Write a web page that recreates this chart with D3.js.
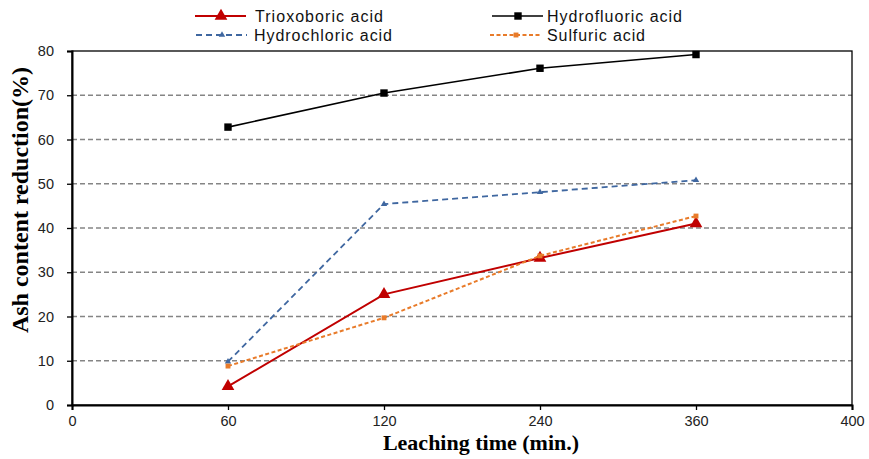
<!DOCTYPE html>
<html><head><meta charset="utf-8">
<script src="https://cdn.jsdelivr.net/npm/d3@7"></script>
<style>body{margin:0;background:#fff}</style>
</head><body>
<svg id="c" width="869" height="459"></svg>
<script>
const xLabels = ["0","60","120","240","360","400"];
const times = ["60","120","240","360"];
const yTicks = [0,10,20,30,40,50,60,70,80];
const trioxoboric = [4.2, 25.0, 33.2, 41.0];
const hydrofluoric = [62.8, 70.5, 76.1, 79.2];
const hydrochloric = [9.8, 45.4, 48.1, 50.8];
const sulfuric = [8.8, 19.7, 33.7, 42.7];

const series = [
  {name:"Trioxoboric acid", values:trioxoboric, color:"#C00000", dash:null, sym:d3.symbolTriangle, size:70, w:2},
  {name:"Hydrofluoric acid", values:hydrofluoric, color:"#000000", dash:null, sym:d3.symbolSquare, size:55, w:1.6},
  {name:"Hydrochloric acid", values:hydrochloric, color:"#3F67A0", dash:"6,4", sym:d3.symbolTriangle, size:18, w:1.8},
  {name:"Sulfuric acid", values:sulfuric, color:"#E87B2A", dash:"4,2.5", sym:d3.symbolSquare, size:24, w:2}
];

const svg = d3.select("#c");
const L=72, R=852, T=51, B=405;
const x = d3.scalePoint().domain(xLabels).range([L,R]);
const y = d3.scaleLinear().domain([0,80]).range([B,T]);

// gridlines
svg.append("g").selectAll("line").data(yTicks.filter(d=>d>0&&d<80)).join("line")
  .attr("x1",L).attr("x2",R).attr("y1",d=>y(d)).attr("y2",d=>y(d))
  .attr("stroke","#858585").attr("stroke-width",1.3).attr("stroke-dasharray","5,3");

// frame
svg.append("rect").attr("x",L).attr("y",T).attr("width",R-L).attr("height",B-T)
  .attr("fill","none").attr("stroke","#000").attr("stroke-width",1.3);

const gx = svg.append("g").attr("transform",`translate(0,${B})`)
  .call(d3.axisBottom(x).tickSize(5).tickPadding(6));
gx.select(".domain").attr("stroke-width",2);
const gy = svg.append("g").attr("transform",`translate(${L},0)`)
  .call(d3.axisLeft(y).tickValues(yTicks).tickSize(5).tickPadding(13));
gy.select(".domain").attr("stroke-width",2);
svg.selectAll(".tick text").attr("font-family","Liberation Sans, Arial, sans-serif").attr("font-size",14.5).attr("fill","#222");
svg.selectAll(".tick line").attr("stroke-width",1.3);

// axis titles
svg.append("text").attr("x",481).attr("y",450).attr("text-anchor","middle")
  .attr("font-family","Liberation Serif, Times New Roman, serif").attr("font-weight","bold").attr("font-size",22)
  .text("Leaching time (min.)");
svg.append("text").attr("transform",`translate(28,200) rotate(-90)`).attr("text-anchor","middle")
  .attr("font-family","Liberation Serif, Times New Roman, serif").attr("font-weight","bold").attr("font-size",24)
  .text("Ash content reduction(%)");

const line = d3.line().x((d,i)=>x(times[i])).y(d=>y(d));
series.forEach(s=>{
  svg.append("path").datum(s.values).attr("d",line).attr("fill","none")
    .attr("stroke",s.color).attr("stroke-width",s.w).attr("stroke-dasharray",s.dash);
  svg.append("g").selectAll("path").data(s.values).join("path")
    .attr("transform",(d,i)=>`translate(${x(times[i])},${y(d)})`)
    .attr("d",d3.symbol().type(s.sym).size(s.size)).attr("fill",s.color);
});

// legend
const legPos = [[195,16],[492,16],[196,35],[490,35]];
const textX = [255,547,254,547];
const textW = [128,135,138,98];
series.forEach((s,i)=>{
  const [lx,ly]=legPos[i];
  const g = svg.append("g");
  g.append("line").attr("x1",lx).attr("x2",lx+51).attr("y1",ly).attr("y2",ly)
    .attr("stroke",s.color).attr("stroke-width",s.w).attr("stroke-dasharray",s.dash);
  g.append("path").attr("transform",`translate(${lx+26},${ly})`).attr("d",d3.symbol().type(s.sym).size(s.size)).attr("fill",s.color);
  g.append("text").attr("x",textX[i]).attr("y",ly+5.5).attr("font-family","Liberation Sans, Arial, sans-serif")
    .attr("font-size",16).attr("fill","#111").attr("textLength",textW[i]).attr("lengthAdjust","spacing").text(s.name);
});
</script>
</body></html>
